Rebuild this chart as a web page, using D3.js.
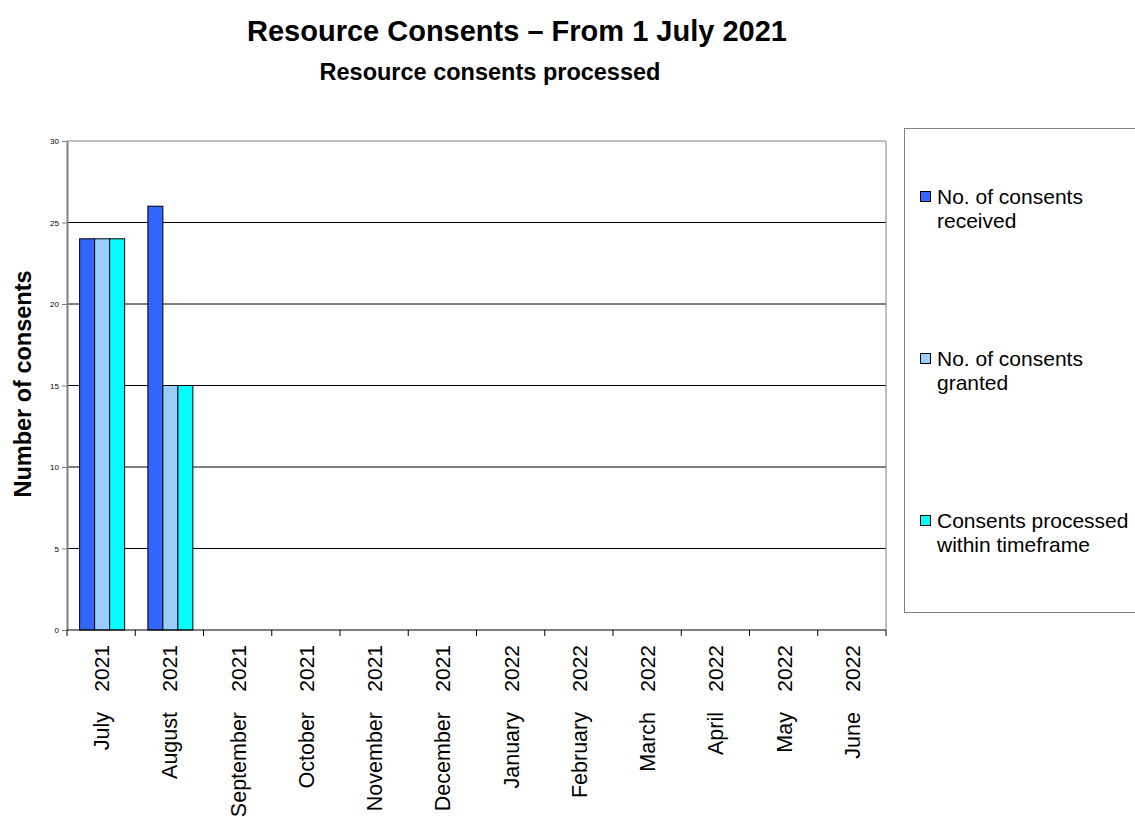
<!DOCTYPE html>
<html>
<head>
<meta charset="utf-8">
<script src="https://cdn.jsdelivr.net/npm/d3@7"></script>
<style>
  body { margin: 0; background: #fff; }
  svg { display: block; font-family: "Liberation Sans", Arial, sans-serif; }
</style>
</head>
<body>
<div id="chart"></div>
<script>
// Data
const months = ["July", "August", "September", "October", "November", "December",
  "January", "February", "March", "April", "May", "June"];
const years = ["2021", "2021", "2021", "2021", "2021", "2021",
  "2022", "2022", "2022", "2022", "2022", "2022"];
const received = [24, 26, null, null, null, null, null, null, null, null, null, null];
const granted = [24, 15, null, null, null, null, null, null, null, null, null, null];
const withinTimeframe = [24, 15, null, null, null, null, null, null, null, null, null, null];
const seriesNames = ["No. of consents received", "No. of consents granted", "Consents processed within timeframe"];
const legendLines = [["No. of consents", "received"], ["No. of consents", "granted"], ["Consents processed", "within timeframe"]];
const yTicks = [0, 5, 10, 15, 20, 25, 30];

const width = 1135, height = 817;
const margin = { top: 141, right: 249, bottom: 187, left: 67 };
const innerW = width - margin.left - margin.right;
const innerH = height - margin.top - margin.bottom;

const color = d3.scaleOrdinal()
  .domain(seriesNames)
  .range(["#3366FF", "#99CCFF", "#00FFFF"]);

const rows = months.map((m, i) => ({
  key: m + " " + years[i],
  month: m,
  year: years[i],
  values: [received[i], granted[i], withinTimeframe[i]]
}));

const svg = d3.select("#chart").append("svg")
  .attr("width", width)
  .attr("height", height);

// Titles
svg.append("text")
  .attr("x", 517).attr("y", 41)
  .attr("text-anchor", "middle")
  .attr("font-size", 29).attr("font-weight", "bold")
  .text("Resource Consents \u2013 From 1 July 2021");
svg.append("text")
  .attr("x", 490).attr("y", 80)
  .attr("text-anchor", "middle")
  .attr("font-size", 23.5).attr("font-weight", "bold")
  .text("Resource consents processed");

const g = svg.append("g")
  .attr("transform", `translate(${margin.left},${margin.top})`);

const x0 = d3.scaleBand().domain(rows.map((d) => d.key)).range([0, innerW]).paddingInner(0);
const x1 = d3.scaleBand().domain(seriesNames).range([0, x0.bandwidth()]).paddingOuter(0.775);
const y = d3.scaleLinear().domain([0, 30]).range([innerH, 0]);

// Gridlines
g.append("g")
  .selectAll("line")
  .data(yTicks.filter((t) => t > 0 && t < 30))
  .join("line")
  .attr("x1", 0).attr("x2", innerW)
  .attr("y1", (d) => y(d)).attr("y2", (d) => y(d))
  .attr("stroke", "#000").attr("stroke-width", 1);

// Plot frame (top and right)
g.append("path")
  .attr("d", `M0,${y(30)}H${innerW}V${innerH}`)
  .attr("fill", "none").attr("stroke", "#808080").attr("stroke-width", 1);

// Bars
g.append("g")
  .selectAll("g")
  .data(rows)
  .join("g")
  .attr("transform", (d) => `translate(${x0(d.key) + 1},0)`)
  .selectAll("rect")
  .data((d) => d.values.map((v, i) => ({ name: seriesNames[i], value: v })).filter((d) => d.value))
  .join("rect")
  .attr("x", (d) => x1(d.name))
  .attr("y", (d) => y(d.value))
  .attr("width", x1.bandwidth())
  .attr("height", (d) => innerH - y(d.value))
  .attr("fill", (d) => color(d.name))
  .attr("stroke", "#000").attr("stroke-width", 1);

// Y axis
const gy = g.append("g")
  .call(d3.axisLeft(y).tickValues(yTicks).tickSize(5).tickPadding(3).tickSizeOuter(0));
gy.select(".domain").attr("stroke", "#808080").attr("stroke-width", 2);
gy.selectAll(".tick line").attr("stroke", "#808080");
gy.selectAll(".tick text")
  .attr("font-size", 8).attr("font-family", "Liberation Sans, Arial, sans-serif").attr("fill", "#000");

// X axis
const gx = g.append("g").attr("transform", `translate(0,${innerH})`);
gx.append("line")
  .attr("x1", 0).attr("x2", innerW)
  .attr("stroke", "#000").attr("stroke-width", 1);
gx.selectAll(".tick")
  .data(rows.map((d) => x0(d.key)).concat([innerW]))
  .join("line")
  .attr("class", "tick")
  .attr("x1", (d) => d).attr("x2", (d) => d)
  .attr("y1", 0).attr("y2", 6)
  .attr("stroke", "#000");

const lbl = gx.selectAll(".lbl")
  .data(rows)
  .join("g")
  .attr("class", "lbl")
  .attr("transform", (d) => `translate(${x0(d.key) + x0.bandwidth() / 2 + 8},0) rotate(-90)`);
lbl.append("text")
  .attr("x", -15).attr("y", 0)
  .attr("text-anchor", "end")
  .attr("font-size", 21)
  .text((d) => d.year);
lbl.append("text")
  .attr("x", -82).attr("y", 0)
  .attr("text-anchor", "end")
  .attr("font-size", 21.5)
  .text((d) => d.month);

// Y axis title
svg.append("text")
  .attr("transform", `translate(31,384) rotate(-90)`)
  .attr("text-anchor", "middle")
  .attr("font-size", 23.5).attr("font-weight", "bold")
  .text("Number of consents");

// Legend
const legend = svg.append("g");
legend.append("rect")
  .attr("x", 904.5).attr("y", 128.5)
  .attr("width", 240).attr("height", 484)
  .attr("fill", "#fff").attr("stroke", "#808080").attr("stroke-width", 1);

const legendY = d3.scalePoint().domain(seriesNames).range([204, 528]);
const item = legend.selectAll(".item")
  .data(seriesNames)
  .join("g")
  .attr("class", "item")
  .attr("transform", (d) => `translate(0,${legendY(d)})`);
item.append("rect")
  .attr("x", 920.5).attr("y", -12.5)
  .attr("width", 10).attr("height", 10)
  .attr("fill", (d) => color(d))
  .attr("stroke", "#000").attr("stroke-width", 1);
item.append("text")
  .attr("x", 937).attr("y", 0)
  .attr("font-size", 21)
  .selectAll("tspan")
  .data((d, i) => legendLines[i])
  .join("tspan")
  .attr("x", 937)
  .attr("dy", (d, i) => (i === 0 ? 0 : 24))
  .text((d) => d);
</script>
</body>
</html>
